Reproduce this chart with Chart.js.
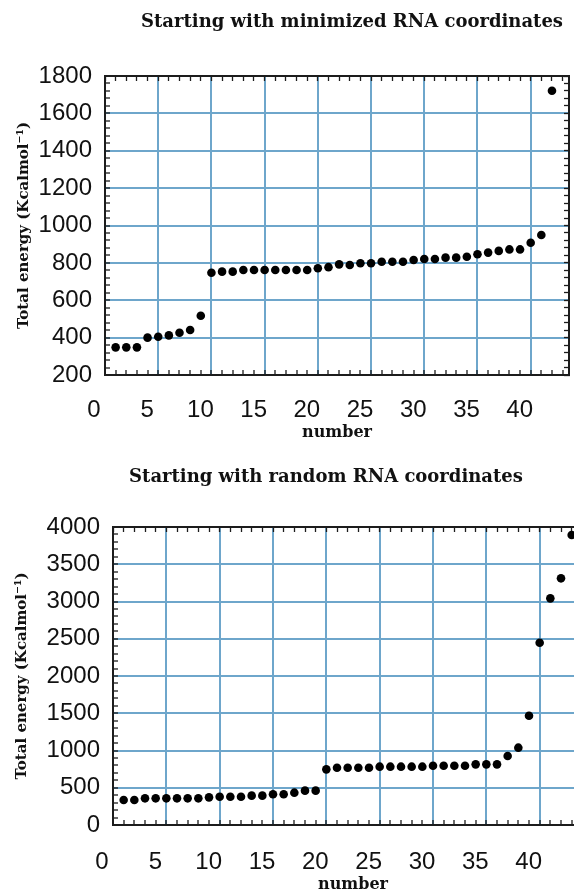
<!DOCTYPE html>
<html><head><meta charset="utf-8">
<script src="https://cdn.jsdelivr.net/npm/chart.js@4.4.0/dist/chart.umd.min.js"></script>
<style>
html,body{margin:0;padding:0;background:#fff;overflow:hidden;width:574px;height:891px;position:relative;}
#c1{position:absolute;left:0;top:0;}
#c2{position:absolute;left:0;top:445px;}
</style></head><body>
<canvas id="c1" width="574" height="450"></canvas>
<canvas id="c2" width="600" height="460"></canvas>
<script>
// ---- texts ----
const topTitle = 'Starting with minimized RNA coordinates';
const bottomTitle = 'Starting with random RNA coordinates';
const xAxisTitle = 'number';
const yAxisTitle = 'Total energy (Kcalmol\u207B\u00B9)';

// ---- top panel data ----
const topRuns = [1,2,3,4,5,6,7,8,9,10,11,12,13,14,15,16,17,18,19,20,21,22,23,24,25,26,27,28,29,30,31,32,33,34,35,36,37,38,39,40,41,42];
const topEnergy = [348,348,348,400,405,412,426,441,517,747,753,753,762,762,762,762,762,762,762,771,777,792,789,798,798,806,806,806,815,821,821,828,828,833,846,855,864,872,872,908,949,1721];
const topXTicks = [0,5,10,15,20,25,30,35,40];
const topYTicks = [200,400,600,800,1000,1200,1400,1600,1800];

// ---- bottom panel data ----
const bottomRuns = [1,2,3,4,5,6,7,8,9,10,11,12,13,14,15,16,17,18,19,20,21,22,23,24,25,26,27,28,29,30,31,32,33,34,35,36,37,38,39,40,41,42,43];
const bottomEnergy = [336,336,358,358,358,358,358,358,371,380,380,380,394,394,412,412,434,461,461,747,769,769,769,769,783,783,783,783,783,796,796,796,796,814,814,814,926,1038,1467,2447,3042,3311,3892];
const bottomXTicks = [0,5,10,15,20,25,30,35,40];
const bottomYTicks = [0,500,1000,1500,2000,2500,3000,3500,4000];

const GRID = '#6ea6cb';
const FRAME = '#1c1c1c';
const INK = '#111';
const tickFont = {family: "'Liberation Sans', Arial, sans-serif", size: 24};
const serifBold = s => ({family: "'DejaVu Serif', serif", size: s, weight: 'bold'});

const shiftTitle = {
  id: 'shiftTitle',
  afterLayout(chart, args, opts) {
    const t = chart.titleBlock;
    if (t && opts.dx) { t.left += opts.dx; t.right += opts.dx; }
  }
};

function near(list, v) { return list.some(t => Math.abs(t - v) < 1e-6); }

function buildChart(id, o) {
  const pts = o.runs.map((r, i) => ({x: r, y: o.energy[i]}));
  const minorTicks = {tickColor: FRAME, tickWidth: 1.3, tickLength: -5, drawTicks: true};
  return new Chart(document.getElementById(id), {
    type: 'scatter',
    data: {datasets: [{
      data: pts, backgroundColor: '#000', borderColor: '#000', borderWidth: 0,
      pointRadius: 4.3, pointHoverRadius: 4.3
    }]},
    options: {
      responsive: false, animation: false, devicePixelRatio: 1,
      layout: {padding: 0},
      events: [],
      plugins: {
        legend: {display: false}, tooltip: {enabled: false},
        title: {display: true, text: o.title, font: serifBold(18), color: INK,
                padding: {top: o.titlePadTop, bottom: o.titlePadBottom}},
        shiftTitle: {dx: o.titleDx}
      },
      scales: {
        x: {
          type: 'linear', position: 'bottom', min: 0, max: o.xMax, bounds: 'data',
          ticks: {stepSize: 1, includeBounds: false, autoSkip: false, maxRotation: 0,
                  padding: o.xLabelPad, labelOffset: -11, font: tickFont, color: INK,
                  callback: v => near(o.xTicks, v) ? String(v) : ''},
          grid: Object.assign({color: c => near(o.xTicks, c.tick.value) ? GRID : 'rgba(0,0,0,0)', lineWidth: 2}, minorTicks),
          border: {display: true, color: FRAME, width: 2},
          title: {display: true, text: xAxisTitle, font: serifBold(16), color: INK,
                  padding: {top: 0, bottom: o.xTitlePad}},
          afterFit: s => { s.height = o.xAxisH; s.paddingLeft = 0; s.paddingRight = 0; }
        },
        xTop: {
          type: 'linear', position: 'top', min: 0, max: o.xMax, bounds: 'data',
          ticks: {display: false, stepSize: 1, includeBounds: false, autoSkip: false},
          grid: Object.assign({drawOnChartArea: false}, minorTicks),
          border: {display: true, color: FRAME, width: 2},
          afterFit: s => { s.height = 0; s.paddingLeft = 0; s.paddingRight = 0; }
        },
        y: {
          type: 'linear', position: 'left', min: o.yMin, max: o.yMax, bounds: 'data',
          ticks: {stepSize: o.yMinor, includeBounds: false, autoSkip: false,
                  padding: 18, font: tickFont, color: INK,
                  callback: v => near(o.yTicks, v) ? String(v) : ''},
          grid: Object.assign({color: c => near(o.yTicks, c.tick.value) ? GRID : 'rgba(0,0,0,0)', lineWidth: 2}, minorTicks),
          border: {display: true, color: FRAME, width: 2},
          title: {display: true, text: yAxisTitle, font: serifBold(15), color: INK,
                  padding: {top: o.yTitlePad, bottom: 0}},
          afterFit: s => { s.width = o.yAxisW; s.paddingTop = 0; s.paddingBottom = 0; }
        },
        yRight: {
          type: 'linear', position: 'right', min: o.yMin, max: o.yMax, bounds: 'data',
          ticks: {display: false, stepSize: o.yMinor, includeBounds: false, autoSkip: false},
          grid: Object.assign({drawOnChartArea: false}, minorTicks),
          border: {display: true, color: FRAME, width: 2},
          afterFit: s => { s.width = o.yRightW; s.paddingTop = 0; s.paddingBottom = 0; }
        }
      }
    },
    plugins: [shiftTitle]
  });
}

buildChart('c1', {
  title: topTitle, runs: topRuns, energy: topEnergy, xTicks: topXTicks, yTicks: topYTicks,
  xMax: 43.6, yMin: 200, yMax: 1800, yMinor: 40,
  titlePadTop: 11.2, titlePadBottom: 43.2, titleDx: 65,
  xAxisH: 75, xLabelPad: 25.6, xTitlePad: 7.4,
  yAxisW: 105, yRightW: 5, yTitlePad: 15
});

buildChart('c2', {
  title: bottomTitle, runs: bottomRuns, energy: bottomEnergy, xTicks: bottomXTicks, yTicks: bottomYTicks,
  xMax: 45, yMin: 0, yMax: 4000, yMinor: 100,
  titlePadTop: 21.2, titlePadBottom: 39.2, titleDx: 26,
  xAxisH: 80, xLabelPad: 27.6, xTitlePad: 10.4,
  yAxisW: 113, yRightW: 7, yTitlePad: 13
});
</script>
</body></html>
